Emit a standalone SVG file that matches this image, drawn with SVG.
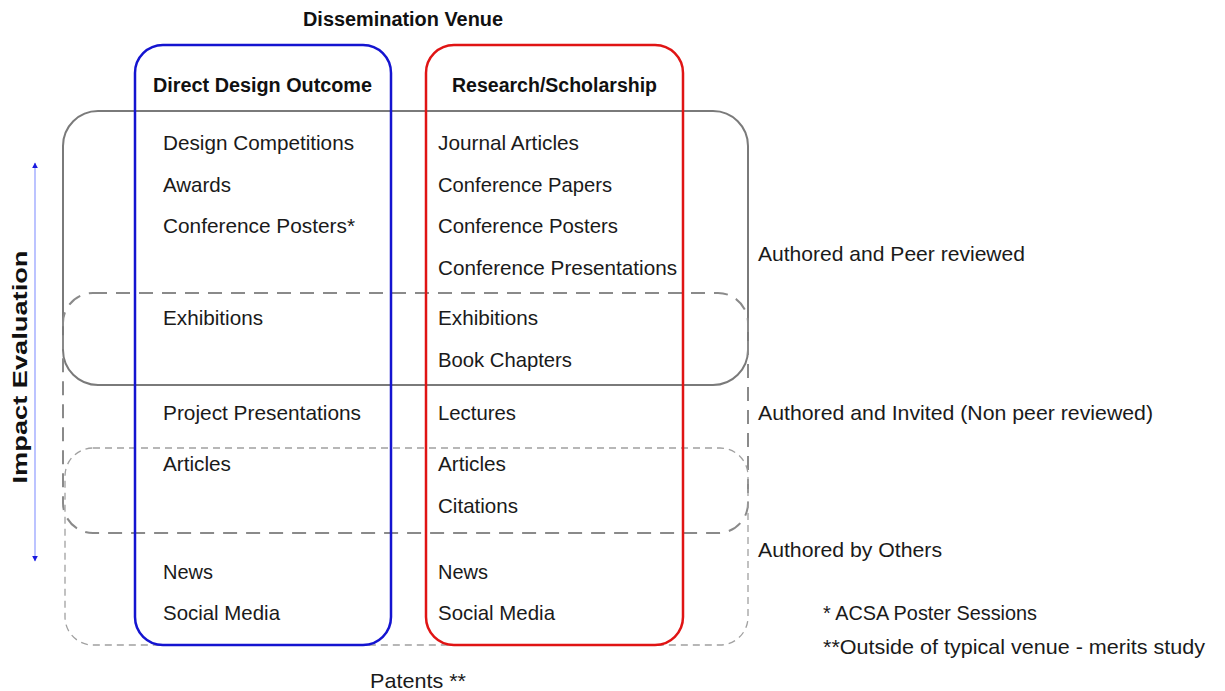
<svg xmlns="http://www.w3.org/2000/svg" width="1225" height="691" viewBox="0 0 1225 691">
<style>
.t{font-family:"Liberation Sans",Arial,sans-serif;font-size:21px;fill:#1a1a1a}
.b{font-family:"Liberation Sans",Arial,sans-serif;font-size:20px;font-weight:bold;fill:#111}
</style>
<defs>
<marker id="ah" viewBox="0 0 10 10" refX="9" refY="5" markerWidth="6" markerHeight="6" orient="auto-start-reverse" markerUnits="userSpaceOnUse"><path d="M0,0 L10,5 L0,10 z" fill="#1a1adf"/></marker>
</defs>
<rect width="1225" height="691" fill="#fff"/>
<g id="bands">
<rect id="peer" x="63" y="111" width="685" height="274" rx="35" fill="none" stroke="#7a7a7a" stroke-width="2"/>
<rect id="invited" x="63" y="293" width="685" height="240" rx="30" fill="none" stroke="#8a8a8a" stroke-width="2" stroke-dasharray="14,9"/>
<rect id="others" x="65" y="448" width="683" height="197" rx="28" fill="none" stroke="#a0a0a0" stroke-width="1.3" stroke-dasharray="7,5"/>
</g>
<g id="col-design">
<rect x="135" y="45" width="256" height="600" rx="28" fill="none" stroke="#1414d0" stroke-width="2.5"/>
<text class="b" x="153" y="92" textLength="219" lengthAdjust="spacingAndGlyphs">Direct Design Outcome</text>
<text class="t" x="163" y="150" textLength="191" lengthAdjust="spacingAndGlyphs">Design Competitions</text>
<text class="t" x="163" y="192" textLength="68" lengthAdjust="spacingAndGlyphs">Awards</text>
<text class="t" x="163" y="233" textLength="192" lengthAdjust="spacingAndGlyphs">Conference Posters*</text>
<text class="t" x="163" y="325" textLength="100" lengthAdjust="spacingAndGlyphs">Exhibitions</text>
<text class="t" x="163" y="420" textLength="198" lengthAdjust="spacingAndGlyphs">Project Presentations</text>
<text class="t" x="163" y="471" textLength="68" lengthAdjust="spacingAndGlyphs">Articles</text>
<text class="t" x="163" y="579" textLength="50" lengthAdjust="spacingAndGlyphs">News</text>
<text class="t" x="163" y="620" textLength="117" lengthAdjust="spacingAndGlyphs">Social Media</text>
</g>
<g id="col-research">
<rect x="426" y="45" width="257" height="600" rx="28" fill="none" stroke="#e01414" stroke-width="2.5"/>
<text class="b" x="452" y="92" textLength="205" lengthAdjust="spacingAndGlyphs">Research/Scholarship</text>
<text class="t" x="438" y="150" textLength="141" lengthAdjust="spacingAndGlyphs">Journal Articles</text>
<text class="t" x="438" y="192" textLength="174" lengthAdjust="spacingAndGlyphs">Conference Papers</text>
<text class="t" x="438" y="233" textLength="180" lengthAdjust="spacingAndGlyphs">Conference Posters</text>
<text class="t" x="438" y="275" textLength="239" lengthAdjust="spacingAndGlyphs">Conference Presentations</text>
<text class="t" x="438" y="325" textLength="100" lengthAdjust="spacingAndGlyphs">Exhibitions</text>
<text class="t" x="438" y="367" textLength="134" lengthAdjust="spacingAndGlyphs">Book Chapters</text>
<text class="t" x="438" y="420" textLength="78" lengthAdjust="spacingAndGlyphs">Lectures</text>
<text class="t" x="438" y="471" textLength="68" lengthAdjust="spacingAndGlyphs">Articles</text>
<text class="t" x="438" y="513" textLength="80" lengthAdjust="spacingAndGlyphs">Citations</text>
<text class="t" x="438" y="579" textLength="50" lengthAdjust="spacingAndGlyphs">News</text>
<text class="t" x="438" y="620" textLength="117" lengthAdjust="spacingAndGlyphs">Social Media</text>
</g>
<g id="title"><text class="b" x="303" y="26" textLength="200" lengthAdjust="spacingAndGlyphs">Dissemination Venue</text></g>
<g id="labels">
<text class="t" x="758" y="261" textLength="267" lengthAdjust="spacingAndGlyphs">Authored and Peer reviewed</text>
<text class="t" x="758" y="420" textLength="395" lengthAdjust="spacingAndGlyphs">Authored and Invited (Non peer reviewed)</text>
<text class="t" x="758" y="557" textLength="184" lengthAdjust="spacingAndGlyphs">Authored by Others</text>
<text class="t" x="823" y="620" textLength="214" lengthAdjust="spacingAndGlyphs">* ACSA Poster Sessions</text>
<text class="t" x="823" y="654" textLength="382" lengthAdjust="spacingAndGlyphs">**Outside of typical venue - merits study</text>
<text class="t" x="370" y="688" textLength="96" lengthAdjust="spacingAndGlyphs">Patents **</text>
</g>
<g id="axis">
<text class="b" transform="translate(27,367) rotate(-90)" text-anchor="middle" textLength="233" lengthAdjust="spacingAndGlyphs">Impact Evaluation</text>
</g>
<g id="connectors">
<line x1="35" y1="163" x2="35" y2="561" stroke="#8f9cff" stroke-width="1.2" marker-start="url(#ah)" marker-end="url(#ah)"/>
</g>
</svg>
